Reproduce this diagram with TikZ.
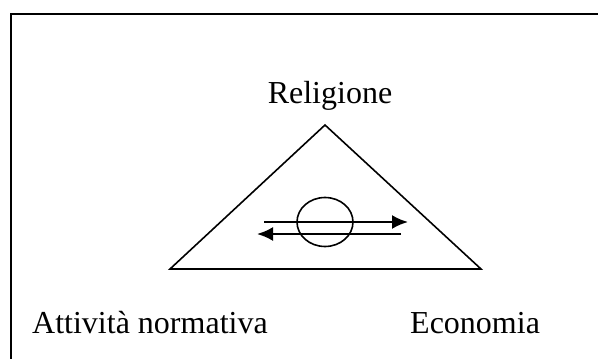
\documentclass[tikz,border=0pt]{standalone}
\usepackage{fontspec}
\setmainfont{Liberation Serif}
\usepackage{tikz}
\usetikzlibrary{shapes.geometric,arrows.meta,positioning}
\tikzstyle{label} = [inner sep=0pt, font=\fontsize{32}{38}\selectfont]
\tikzstyle{arrow} = [line width=2.2pt,-{Latex[length=16pt,width=14pt]}]
\begin{document}
\begin{tikzpicture}[x=1pt,y=-1pt]
\useasboundingbox (0,0) rectangle (598,359);
% Frame
\draw[line width=2.2pt] (598,14) -- (11,14) -- (11,359);
% Corners
\coordinate (apex) at (325,125);
\coordinate (baseL) at (170,269);
\coordinate (baseR) at (481,269);
\draw[line width=1.6pt, line join=miter] (apex) -- (baseR) -- (baseL) -- cycle;
% Labels
\node[label, anchor=base] (relig) at (330,103) {Religione};
\node[label, anchor=base west] (norm) at (32,333) {Attività normativa};
\node[label, anchor=base west] (econ) at (410,333) {Economia};
% Centre
\node[ellipse, draw, line width=1.6pt, minimum width=56pt, minimum height=49pt, inner sep=0pt] (hub) at (325,222) {};
\coordinate (upL) at (264,222);
\coordinate (upR) at (408,222);
\coordinate (loR) at (401,234);
\coordinate (loL) at (257,234);
% Arrows
\draw[arrow] (upL) -- (upR);
\draw[arrow] (loR) -- (loL);
\end{tikzpicture}
\end{document}
